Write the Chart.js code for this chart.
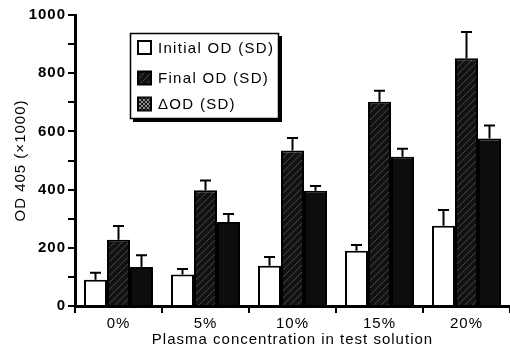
<!DOCTYPE html>
<html><head><meta charset="utf-8">
<script src="https://cdn.jsdelivr.net/npm/chart.js@4/dist/chart.umd.min.js"></script>
<style>html,body{margin:0;padding:0;background:#fff}#wrap{width:510px;height:349px;position:relative}</style>
</head><body><div id="wrap"><canvas id="c" width="510" height="349"></canvas></div>
<script>
const categories = ['0%', '5%', '10%', '15%', '20%'];
const initialOD = [90, 108, 138, 190, 276];
const initialSD = [24, 19, 30, 20, 54];
const finalOD = [228, 398, 534, 702, 851];
const finalSD = [47, 33, 43, 38, 91];
const deltaOD = [134, 289, 396, 513, 576];
const deltaSD = [40, 27, 16, 27, 44];
const seriesLabels = ['Initial OD (SD)', 'Final OD (SD)', '\u0394OD (SD)'];
const yLabelTicks = [0, 200, 400, 600, 800, 1000];
const sdLists = [initialSD, finalSD, deltaSD];

const FONT = "'Liberation Sans', Arial, Helvetica, sans-serif";

function makePattern(bg, fg, size, cross) {
  const c = document.createElement('canvas');
  c.width = c.height = size;
  const x = c.getContext('2d');
  x.fillStyle = bg; x.fillRect(0, 0, size, size);
  x.strokeStyle = fg; x.lineWidth = 1;
  x.beginPath();
  x.moveTo(0, size); x.lineTo(size, 0);
  x.moveTo(-1, 1); x.lineTo(1, -1);
  x.moveTo(size - 1, size + 1); x.lineTo(size + 1, size - 1);
  if (cross) {
    x.moveTo(0, 0); x.lineTo(size, size);
    x.moveTo(-1, size - 1); x.lineTo(1, size + 1);
    x.moveTo(size - 1, -1); x.lineTo(size + 1, 1);
  }
  x.stroke();
  return document.createElement('canvas').getContext('2d').createPattern(c, 'repeat');
}
const hatchFill = makePattern('#121212', '#474747', 7, false);
const crossFill = makePattern('#1a1a1a', '#8a8a8a', 4, true);

const spacingPlugin = {
  id: 'spacing',
  beforeDraw(chart) { chart.ctx.letterSpacing = '1px'; }
};

const errorBars = {
  id: 'errorBars',
  afterDatasetsDraw(chart) {
    const ctx = chart.ctx, y = chart.scales.y;
    chart.data.datasets.forEach((ds, i) => {
      const meta = chart.getDatasetMeta(i);
      meta.data.forEach((bar, j) => {
        const top = y.getPixelForValue(ds.data[j] + sdLists[i][j]);
        ctx.save();
        ctx.strokeStyle = '#000';
        ctx.lineWidth = 2;
        ctx.beginPath();
        ctx.moveTo(bar.x, bar.y);
        ctx.lineTo(bar.x, top);
        ctx.moveTo(bar.x - 5.5, top);
        ctx.lineTo(bar.x + 5.5, top);
        ctx.stroke();
        ctx.restore();
      });
    });
  }
};

const boxLegend = {
  id: 'boxLegend',
  afterDraw(chart) {
    const ctx = chart.ctx;
    ctx.save();
    ctx.fillStyle = '#000';
    ctx.fillRect(133, 36, 149, 86);
    ctx.fillStyle = '#fff';
    ctx.fillRect(130, 33, 149, 86);
    ctx.strokeStyle = '#000';
    ctx.lineWidth = 1.5;
    ctx.strokeRect(130.5, 33.5, 148, 85);
    const rows = [47.5, 78, 104];
    const fills = ['#fff', hatchFill, crossFill];
    ctx.font = '15px ' + FONT;
    ctx.letterSpacing = '1.3px';
    ctx.textBaseline = 'middle';
    ctx.textAlign = 'left';
    chart.data.datasets.forEach((ds, i) => {
      const cy = rows[i];
      ctx.fillStyle = fills[i];
      ctx.fillRect(138, cy - 6.5, 13, 13);
      ctx.lineWidth = 2;
      ctx.strokeStyle = '#000';
      ctx.strokeRect(138, cy - 6.5, 13, 13);
      ctx.fillStyle = '#000';
      ctx.fillText(ds.label, 158, cy + 1);
    });
    ctx.restore();
  }
};

new Chart(document.getElementById('c'), {
  type: 'bar',
  data: {
    labels: categories,
    datasets: [
      { label: seriesLabels[0], data: initialOD, backgroundColor: '#fff', borderColor: '#000', borderWidth: 2 },
      { label: seriesLabels[1], data: finalOD, backgroundColor: hatchFill, borderColor: '#000', borderWidth: 2 },
      { label: seriesLabels[2], data: deltaOD, backgroundColor: '#0d0d0d', borderColor: '#000', borderWidth: 2 }
    ]
  },
  options: {
    responsive: false,
    animation: false,
    devicePixelRatio: 1,
    layout: { padding: { top: 15, right: 0, left: 0, bottom: 0 } },
    datasets: { bar: { categoryPercentage: 0.793, barPercentage: 1.0 } },
    plugins: { legend: { display: false }, tooltip: { enabled: false } },
    scales: {
      x: {
        grid: { offset: true, drawOnChartArea: false, drawTicks: true, tickLength: 7, color: '#000', lineWidth: 2 },
        border: { display: true, color: '#000', width: 3 },
        ticks: { color: '#000', font: { family: FONT, size: 15 }, padding: 2 },
        title: { display: true, text: 'Plasma concentration in test solution', color: '#000', font: { family: FONT, size: 15 }, padding: { top: 0, bottom: 0 } },
        afterFit(s) { s.height = 43; }
      },
      y: {
        min: 0, max: 1000,
        ticks: {
          stepSize: 100, color: '#000', padding: 2,
          font: { family: FONT, size: 15, weight: 'bold' },
          callback: v => yLabelTicks.includes(v) ? String(v) : ''
        },
        grid: { drawOnChartArea: false, drawTicks: true, tickLength: 7, color: '#000', lineWidth: 2 },
        border: { display: true, color: '#000', width: 3 },
        title: { display: true, text: 'OD 405 (\u00d71000)', color: '#000', font: { family: FONT, size: 15 }, padding: { top: 12, bottom: 0 } },
        afterFit(s) { s.width = 75; }
      }
    }
  },
  plugins: [spacingPlugin, errorBars, boxLegend]
});
</script>
</body></html>
